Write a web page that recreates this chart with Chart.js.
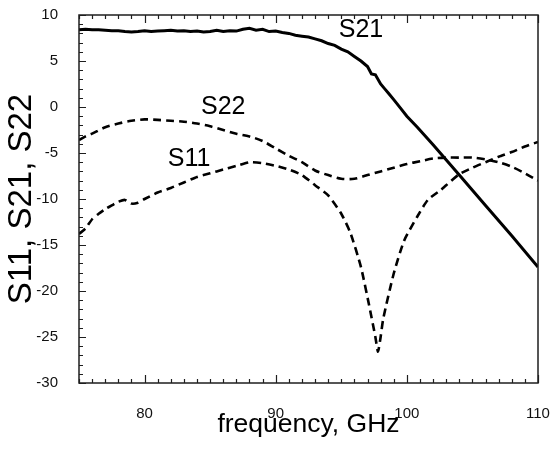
<!DOCTYPE html>
<html>
<head>
<meta charset="utf-8">
<script src="https://cdn.jsdelivr.net/npm/chart.js@4/dist/chart.umd.min.js"></script>
<style>
html,body{margin:0;padding:0;background:#fff;}
#wrap{width:553px;height:450px;}
</style>
</head>
<body>
<div id="wrap"><canvas id="c" width="553" height="450"></canvas></div>
<script>
// ---- data (frequency in GHz, S-parameters in dB) ----
const s21Freq = [75,75.5,76,76.5,77,77.5,78,78.5,79,79.5,80,80.5,81,81.5,82,82.5,83,83.5,84,84.5,85,85.5,86,86.5,87,87.5,88,88.5,89,89.5,90,90.5,91,91.5,92,92.5,93,93.5,94,94.5,95,95.5,96,96.5,97,97.3,97.6,98,98.3,98.6,99,99.5,100,100.8,102,104,106,108,110];
const s21Values = [8.4,8.45,8.4,8.4,8.35,8.3,8.3,8.2,8.15,8.2,8.3,8.2,8.25,8.3,8.35,8.25,8.3,8.2,8.25,8.15,8.2,8.35,8.2,8.3,8.25,8.45,8.55,8.35,8.45,8.2,8.25,8.1,8.0,7.8,7.7,7.6,7.4,7.2,6.9,6.7,6.3,6.0,5.5,5.0,4.4,3.6,3.5,2.5,2.0,1.5,0.8,-0.1,-1.0,-2.2,-4.1,-7.4,-10.7,-14.0,-17.4];

const s22Freq = [75,75.5,76,77,78,79,80,81,82,83,84,85,86,87,88,89,90,91,92,93,94,95,96,97,98,99,100,101,102,103,104,105,106,107,108,109,110];
const s22Values = [-3.6,-3.2,-2.9,-2.2,-1.8,-1.5,-1.35,-1.4,-1.5,-1.6,-1.8,-2.1,-2.5,-2.9,-3.2,-3.7,-4.5,-5.3,-6.0,-6.9,-7.4,-7.8,-7.8,-7.4,-7.0,-6.6,-6.2,-5.9,-5.6,-5.5,-5.5,-5.5,-5.7,-6.0,-6.5,-7.2,-8.0];

const s11Freq = [75,75.5,76,76.5,77,77.5,78,78.5,79,79.5,80,81,82,83,84,85,86,87,88,89,90,91,92,93,94,95,95.7,96.5,97.2,97.6,97.8,98.0,98.2,99.0,99.8,100.8,101.6,102.6,103,104,105,106,107,108,109,110];
const s11Values = [-13.8,-13.2,-12.2,-11.6,-11.1,-10.7,-10.3,-10.1,-10.5,-10.4,-10.0,-9.3,-8.8,-8.2,-7.6,-7.2,-6.8,-6.4,-6.0,-6.1,-6.4,-6.8,-7.4,-8.5,-9.6,-11.6,-13.7,-17.4,-22.1,-25.0,-26.6,-25.0,-23.0,-18.1,-14.5,-11.9,-10.1,-9.0,-8.5,-7.3,-6.6,-6.0,-5.4,-4.9,-4.3,-3.8];

const xTickValues = [80, 90, 100, 110];
const yTickValues = [-30, -25, -20, -15, -10, -5, 0, 5, 10];

const curveLabels = ['S21', 'S22', 'S11'];
const curveLabelFreq = [96.5, 86.0, 83.4];
const curveLabelDb = [8.4, 0.0, -5.65];

function pts(xs, ys){ return xs.map((x,i)=>({x:x, y:ys[i]})); }

const framePlugin = {
  id: 'frame',
  afterDraw(chart){
    const ctx = chart.ctx;
    const xs = chart.scales.x, ys = chart.scales.y;
    const L = xs.getPixelForValue(75);
    const R = xs.getPixelForValue(110);
    const T = ys.getPixelForValue(10);
    const B = ys.getPixelForValue(-30);
    ctx.save();
    ctx.setLineDash([]);
    ctx.strokeStyle = 'rgb(30,30,30)';
    ctx.lineWidth = 1.5;
    ctx.strokeRect(L, T, R - L, B - T);
    ctx.lineWidth = 1.2;
    ctx.beginPath();
    for (let f = 75; f <= 110; f++) {
      const px = Math.round(xs.getPixelForValue(f)) + 0.5;
      const len = (f % 10 === 0) ? 8 : 4;
      ctx.moveTo(px, B); ctx.lineTo(px, B - len);
      ctx.moveTo(px, T); ctx.lineTo(px, T + len);
    }
    for (let v = -30; v <= 10; v++) {
      const py = Math.round(ys.getPixelForValue(v)) + 0.5;
      const len = (v % 5 === 0) ? 7 : 4;
      ctx.moveTo(L, py); ctx.lineTo(L + len, py);
    }
    ctx.stroke();
    ctx.fillStyle = '#000';
    ctx.font = '25px "Liberation Sans", Arial, sans-serif';
    ctx.textAlign = 'center';
    ctx.textBaseline = 'middle';
    curveLabels.forEach((t,i)=>{
      ctx.fillText(t, xs.getPixelForValue(curveLabelFreq[i]), ys.getPixelForValue(curveLabelDb[i]));
    });
    ctx.restore();
  }
};

new Chart(document.getElementById('c'), {
  type: 'line',
  data: {
    datasets: [
      { label: 'S21', data: pts(s21Freq, s21Values), borderColor: '#000', borderWidth: 3, pointRadius: 0, tension: 0 },
      { label: 'S22', data: pts(s22Freq, s22Values), borderColor: '#000', borderWidth: 2.6, borderDash: [8,5], pointRadius: 0, tension: 0.3 },
      { label: 'S11', data: pts(s11Freq, s11Values), borderColor: '#000', borderWidth: 2.6, borderDash: [8,5], pointRadius: 0, tension: 0.2 }
    ]
  },
  options: {
    responsive: false,
    animation: false,
    events: [],
    layout: { padding: { top: 15, right: 15, left: 0, bottom: 0 } },
    plugins: { legend: { display: false }, tooltip: { enabled: false } },
    scales: {
      x: {
        type: 'linear', min: 75, max: 110,
        grid: { display: false },
        border: { display: false },
        afterBuildTicks(s){ s.ticks = xTickValues.map(v=>({value:v})); },
        afterFit(s){ s.height = 67; s.paddingLeft = 0; s.paddingRight = 0; },
        ticks: { color: '#111', padding: 14, maxRotation: 0, font: { family: '"Liberation Sans", Arial, sans-serif', size: 15 } },
        title: { display: true, text: 'frequency, GHz', color: '#000', padding: { top: 0, bottom: 9 }, font: { family: '"Liberation Sans", Arial, sans-serif', size: 26.5 } }
      },
      y: {
        type: 'linear', min: -30, max: 10,
        grid: { display: false },
        border: { display: false },
        afterBuildTicks(s){ s.ticks = yTickValues.map(v=>({value:v})); },
        afterFit(s){ s.width = 79; s.paddingTop = 0; s.paddingBottom = 0; },
        ticks: { color: '#111', padding: 13, font: { family: '"Liberation Sans", Arial, sans-serif', size: 15 } },
        title: { display: true, text: 'S11, S21, S22', color: '#000', padding: { top: 2, bottom: 0 }, font: { family: '"Liberation Sans", Arial, sans-serif', size: 33 } }
      }
    }
  },
  plugins: [framePlugin]
});
</script>
</body>
</html>
